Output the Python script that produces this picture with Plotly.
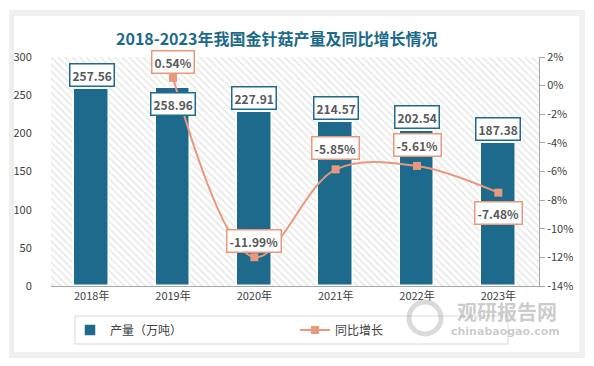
import plotly.graph_objects as go

years = ["2018年", "2019年", "2020年", "2021年", "2022年", "2023年"]
output = [257.56, 258.96, 227.91, 214.57, 202.54, 187.38]
growth = [None, 0.54, -11.99, -5.85, -5.61, -7.48]
growth_labels = ["", "0.54%", "-11.99%", "-5.85%", "-5.61%", "-7.48%"]
output_labels = ["257.56", "258.96", "227.91", "214.57", "202.54", "187.38"]
left_ticks = [0, 50, 100, 150, 200, 250, 300]
right_ticks = [2, 0, -2, -4, -6, -8, -10, -12, -14]

BAR = "#1d6a8c"
LINE = "#e9997b"
FONT = "Noto Sans CJK SC"

fig = go.Figure()

# hatched plot-area background
fig.add_trace(go.Bar(
    x=years, y=[300] * len(years), width=1, xaxis="x", yaxis="y",
    marker=dict(color="white", line=dict(width=0),
                pattern=dict(shape="\\", fgcolor="#cfcfcf", bgcolor="white", size=5, solidity=0.3)),
    showlegend=False, hoverinfo="skip"))

fig.add_trace(go.Bar(
    x=years, y=output, name="产量（万吨）", width=0.43,
    marker=dict(color=BAR, line=dict(color="white", width=1.5)),
    xaxis="x", yaxis="y"))

fig.add_trace(go.Scatter(
    x=years[1:], y=growth[1:], name="同比增长", mode="lines+markers",
    line=dict(color=LINE, width=2, shape="spline", smoothing=1.0),
    marker=dict(symbol="square", size=8, color=LINE),
    xaxis="x", yaxis="y2"))


def px(x):
    return (x - 51) / 488


def py(y):
    return (286 - y) / 229


annotations = []
bar_shift = [14, -16, 14, 14, 14, 14]
for i, (yr, v, lab) in enumerate(zip(years, output, output_labels)):
    annotations.append(dict(
        x=yr, y=v, xref="x", yref="y", text="<b>%s</b>" % lab, showarrow=False,
        yshift=bar_shift[i], font=dict(family=FONT, size=12, color="#595959"),
        bgcolor="white", bordercolor=BAR, borderwidth=1.5, borderpad=2))

line_shift = [0, 16, 16, 21, 21, -20]
for i, (yr, v, lab) in enumerate(zip(years, growth, growth_labels)):
    if v is None:
        continue
    annotations.append(dict(
        x=yr, y=v, xref="x", yref="y2", text="<b>%s</b>" % lab, showarrow=False,
        yshift=line_shift[i], font=dict(family=FONT, size=12, color="#595959"),
        bgcolor="white", bordercolor=LINE, borderwidth=1.5, borderpad=2))

annotations.append(dict(
    x=px(276), y=py(38), xref="paper", yref="paper",
    text="<b>2018-2023年我国金针菇产量及同比增长情况</b>", showarrow=False,
    font=dict(family=FONT, size=16, color="#1b6a8a"), xanchor="center", yanchor="middle"))

# watermark
annotations.append(dict(
    x=px(507), y=py(311), xref="paper", yref="paper", xanchor="center", yanchor="middle",
    text="<b>观研报告网</b>", showarrow=False,
    font=dict(family=FONT, size=20, color="rgba(140,140,140,0.45)")))
annotations.append(dict(
    x=px(505), y=py(331), xref="paper", yref="paper", xanchor="center", yanchor="middle",
    text="<b>chinabaogao.com</b>", showarrow=False,
    font=dict(family="DejaVu Sans", size=11, color="rgba(140,140,140,0.45)")))

shapes = [
    dict(type="rect", xref="paper", yref="paper", x0=px(11), x1=px(583), y0=py(356), y1=py(12),
         line=dict(color="#f0f0f0", width=4), fillcolor="rgba(0,0,0,0)", layer="below"),
    dict(type="rect", xref="paper", yref="paper", x0=px(13), x1=px(580), y0=py(353), y1=py(15),
         line=dict(color="#e2e2e2", width=1), fillcolor="white", layer="below"),
    dict(type="rect", xref="paper", yref="paper", x0=px(75), x1=px(508), y0=py(344), y1=py(316),
         line=dict(color="#d9d9d9", width=1), fillcolor="rgba(0,0,0,0)"),
    # watermark logo ring
    dict(type="circle", xref="paper", yref="paper", x0=px(409), x1=px(441), y0=py(334), y1=py(302),
         line=dict(color="rgba(150,150,150,0.35)", width=5), fillcolor="rgba(0,0,0,0)"),
]

fig.update_layout(
    width=594, height=366,
    margin=dict(l=51, r=55, t=57, b=80, autoexpand=False),
    paper_bgcolor="white", plot_bgcolor="rgba(0,0,0,0)",
    barmode="overlay", bargap=0,
    font=dict(family=FONT, size=11, color="#404040"),
    showlegend=True,
    legend=dict(orientation="h", x=0.5, xanchor="center", y=py(330), yanchor="middle",
                font=dict(family=FONT, size=12, color="#404040"),
                bgcolor="rgba(0,0,0,0)", entrywidth=180, itemwidth=30),
    xaxis=dict(type="category", range=[-0.5, 5.5], showgrid=False, showline=True,
               linecolor="#a6a6a6", linewidth=1, ticks="", zeroline=False,
               tickfont=dict(family=FONT, size=11, color="#404040")),
    yaxis=dict(range=[0, 300], tickvals=left_ticks, showgrid=False, zeroline=False,
               showline=False, ticks="outside", ticklen=16, tickcolor="rgba(0,0,0,0)",
               tickfont=dict(family=FONT, size=11, color="#404040")),
    yaxis2=dict(range=[-14, 2], overlaying="y", side="right", tickvals=right_ticks,
                ticktext=["%d%%" % t for t in right_ticks], showgrid=False, zeroline=False,
                showline=True, linecolor="#a6a6a6", linewidth=1, ticks="outside", ticklen=5,
                tickcolor="#a6a6a6",
                tickfont=dict(family=FONT, size=11, color="#404040")),
    annotations=annotations, shapes=shapes,
)

fig.write_html("out.html", config={"displayModeBar": False},
               post_script="document.body.style.margin='0';")
